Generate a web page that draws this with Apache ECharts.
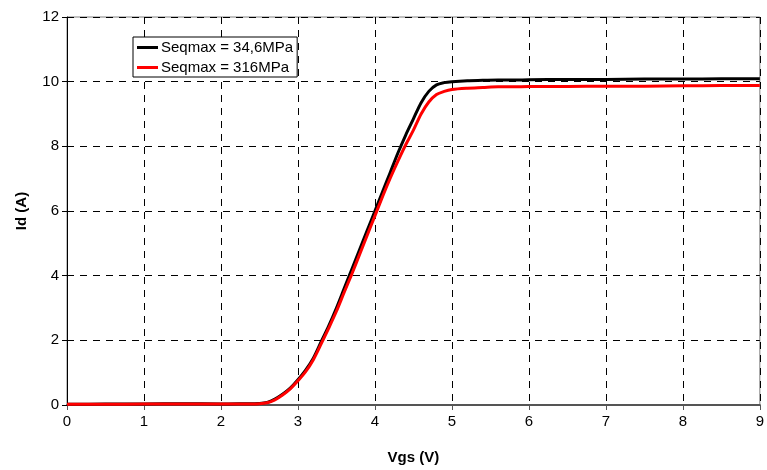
<!DOCTYPE html>
<html>
<head>
<meta charset="utf-8">
<script src="https://cdn.jsdelivr.net/npm/echarts@6/dist/echarts.min.js"></script>
<style>html,body{margin:0;padding:0;background:#fff}#c{width:767px;height:470px}</style>
</head>
<body>
<div id="c"></div>
<script>
var seriesNames = ['Seqmax = 34,6MPa', 'Seqmax = 316MPa'];
var vgs = [0,0.5,1,1.5,2,2.3,2.5,2.6,2.7,2.8,2.9,3.0,3.1,3.2,3.3,3.4,3.5,3.6,3.7,3.8,3.9,4.0,4.1,4.2,4.3,4.4,4.5,4.6,4.7,4.8,4.9,5.0,5.2,5.4,5.6,5.8,6.0,6.5,7.0,7.5,8.0,8.5,9.0];
var idBlack = [0.02,0.03,0.03,0.04,0.03,0.04,0.05,0.08,0.18,0.33,0.52,0.78,1.08,1.45,1.95,2.45,3.0,3.6,4.2,4.8,5.4,6.0,6.6,7.2,7.8,8.35,8.85,9.35,9.7,9.9,9.97,10.0,10.03,10.04,10.05,10.05,10.06,10.07,10.07,10.08,10.08,10.09,10.09];
var idRed = [0.02,0.02,0.03,0.03,0.03,0.03,0.04,0.07,0.16,0.31,0.5,0.75,1.03,1.4,1.88,2.38,2.9,3.48,4.05,4.65,5.25,5.85,6.45,7.02,7.55,8.05,8.5,9.0,9.37,9.6,9.7,9.76,9.8,9.82,9.84,9.84,9.85,9.85,9.86,9.86,9.87,9.88,9.88];
var xTicks = [0,1,2,3,4,5,6,7,8,9];
var yTicks = [0,2,4,6,8,10,12];

function pairs(xs, ys){ return xs.map(function(x,i){ return [x, ys[i]]; }); }

var chart = echarts.init(document.getElementById('c'));
var font = 'Liberation Sans, Arial, sans-serif';
chart.setOption({
  animation: false,
  backgroundColor: '#fff',
  grid: { left: 67, top: 17, right: 4, bottom: 62, show: true, borderColor: '#808080', borderWidth: 1 },
  legend: {
    orient: 'vertical', left: 133, top: 37,
    data: seriesNames,
    icon: 'rect', itemWidth: 21, itemHeight: 3, itemGap: 5,
    padding: [3, 4, 2, 4],
    borderColor: '#000', borderWidth: 1, backgroundColor: '#fff',
    textStyle: { fontFamily: font, fontSize: 15, color: '#000', padding: [0,0,0,-2] }
  },
  xAxis: {
    type: 'value', min: xTicks[0], max: xTicks[xTicks.length-1], interval: 1,
    name: 'Vgs (V)', nameLocation: 'middle', nameGap: 45,
    nameTextStyle: { fontFamily: font, fontSize: 15, fontWeight: 'bold', color: '#000' },
    axisLine: { show: true, onZero: false, lineStyle: { color: '#555', width: 2 } },
    axisTick: { show: true, length: 5, lineStyle: { color: '#555' } },
    axisLabel: { fontFamily: font, fontSize: 15, color: '#000', margin: 9 },
    splitLine: { show: true, lineStyle: { color: '#000', type: [7, 6], width: 1 } }
  },
  yAxis: {
    type: 'value', min: yTicks[0], max: yTicks[yTicks.length-1], interval: 2,
    name: 'Id (A)', nameLocation: 'middle', nameGap: 38, nameRotate: 90,
    nameTextStyle: { fontFamily: font, fontSize: 15, fontWeight: 'bold', color: '#000' },
    axisLine: { show: true, lineStyle: { color: '#000', width: 1 } },
    axisTick: { show: true, length: 5, lineStyle: { color: '#000' } },
    axisLabel: { fontFamily: font, fontSize: 15, color: '#000', margin: 8 },
    splitLine: { show: true, lineStyle: { color: '#000', type: [7, 6], width: 1 } }
  },
  series: [
    { name: seriesNames[0], type: 'line', data: pairs(vgs, idBlack), showSymbol: false, smooth: 0.3,
      lineStyle: { color: '#000', width: 3 }, itemStyle: { color: '#000' } },
    { name: seriesNames[1], type: 'line', data: pairs(vgs, idRed), showSymbol: false, smooth: 0.3,
      lineStyle: { color: '#ff0000', width: 3 }, itemStyle: { color: '#ff0000' } }
  ]
});
</script>
</body>
</html>
